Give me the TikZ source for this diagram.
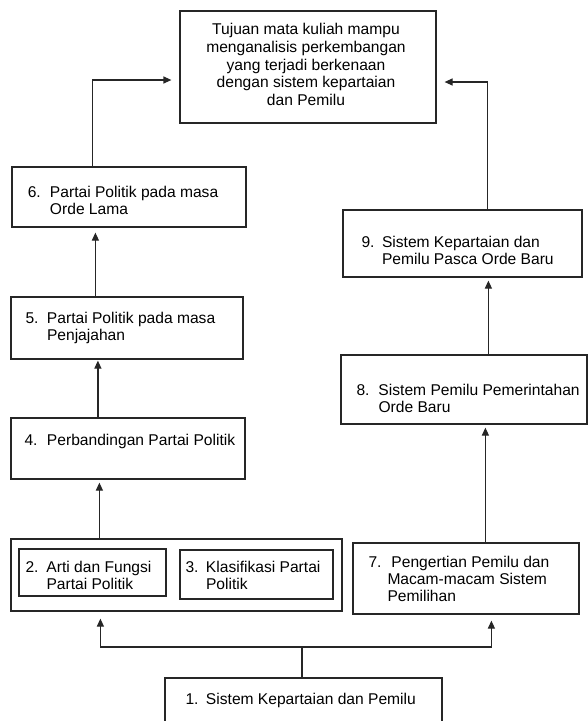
\documentclass[tikz,border=0pt]{standalone}
\usepackage{fontspec}
\setmainfont{Liberation Sans}
\usetikzlibrary{arrows.meta}
\tikzset{
  box/.style={draw=black!85, line width=1.2pt, rectangle, inner sep=0pt},
  conn/.style={draw=black!85, line width=1.2pt},
  arr/.style={conn, -{Triangle[length=8pt,width=7pt]}},
  txt/.style={anchor=base west, inner sep=0pt, font=\fontsize{15.6}{17.2}\selectfont},
}
\begin{document}
\begin{tikzpicture}[x=1pt,y=-1pt]
\useasboundingbox (0,0) rectangle (588,721);
% boxes
\node[box, minimum width=256pt, minimum height=112pt] (top) at (308,67) {};
\node[box, minimum width=234pt, minimum height=60pt] (b6) at (129,197) {};
\node[box, minimum width=232pt, minimum height=62pt] (b5) at (127,328) {};
\node[box, minimum width=234pt, minimum height=61pt] (b4) at (128,448.5) {};
\node[box, minimum width=331pt, minimum height=72pt] (grp) at (176.5,575) {};
\node[box, minimum width=147pt, minimum height=47pt] (b2) at (92.5,572.5) {};
\node[box, minimum width=153pt, minimum height=49pt] (b3) at (256.5,574.5) {};
\node[box, minimum width=239pt, minimum height=67pt] (b9) at (462.5,243.5) {};
\node[box, minimum width=246pt, minimum height=69pt] (b8) at (464,389.5) {};
\node[box, minimum width=226pt, minimum height=71pt] (b7) at (466,578.5) {};
\node[box, minimum width=277pt, minimum height=62pt] (b1) at (303.5,709) {};
% texts
\node[anchor=base, inner sep=0pt, font=\fontsize{15.6}{17.75}\selectfont] (ttop) at (306,34.5)
  {\begin{tabular}[t]{@{}c@{}}Tujuan mata kuliah mampu\\menganalisis perkembangan\\yang terjadi berkenaan\\dengan sistem kepartaian\\dan Pemilu\end{tabular}};
\node[txt] (t6) at (27.6,197) {\begin{tabular}[t]{@{}p{22.2pt}@{}l@{}}6.&Partai Politik pada masa\\&Orde Lama\end{tabular}};
\node[txt] (t5) at (25.3,323) {\begin{tabular}[t]{@{}p{21.5pt}@{}l@{}}5.&Partai Politik pada masa\\&Penjajahan\end{tabular}};
\node[txt] (t4) at (24.3,445) {\begin{tabular}[t]{@{}p{22.5pt}@{}l@{}}4.&Perbandingan Partai Politik\end{tabular}};
\node[txt] (t2) at (25.3,572) {\begin{tabular}[t]{@{}p{21pt}@{}l@{}}2.&Arti dan Fungsi\\&Partai Politik\end{tabular}};
\node[txt] (t3) at (185.3,572) {\begin{tabular}[t]{@{}p{20.5pt}@{}l@{}}3.&Klasifikasi Partai\\&Politik\end{tabular}};
\node[txt] (t7) at (368.3,567) {\begin{tabular}[t]{@{}p{19pt}@{}l@{}}7.&\hspace{4pt}Pengertian Pemilu dan\\&Macam-macam Sistem\\&Pemilihan\end{tabular}};
\node[txt] (t9) at (361.3,247) {\begin{tabular}[t]{@{}p{20.5pt}@{}l@{}}9.&Sistem Kepartaian dan\\&Pemilu Pasca Orde Baru\end{tabular}};
\node[txt] (t8) at (356.3,395) {\begin{tabular}[t]{@{}p{22pt}@{}l@{}}8.&Sistem Pemilu Pemerintahan\\&Orde Baru\end{tabular}};
\node[txt] (t1) at (185.3,704) {\begin{tabular}[t]{@{}p{20.5pt}@{}l@{}}1.&Sistem Kepartaian dan Pemilu\end{tabular}};
% connectors
\draw[arr, shorten >=8pt] ([xshift=81pt]b6.north west) |- ([yshift=-13pt]top.west);
\draw[arr, shorten >=8pt] ([xshift=145pt]b9.north west) |- ([yshift=-15pt]top.east);
\draw[arr, shorten >=5pt] ([xshift=85pt]b5.north west) -- ([xshift=84pt]b6.south west);
\draw[arr, shorten >=1pt] ([xshift=87.5pt]b4.north west) -- ([xshift=87.5pt]b5.south west);
\draw[arr, shorten >=3pt] ([xshift=89pt]grp.north west) -- ([xshift=89pt]b4.south west);
\draw[arr, shorten >=3pt] ([xshift=148pt]b8.north west) -- ([xshift=146pt]b9.south west);
\draw[arr, shorten >=3pt] ([xshift=133pt]b7.north west) -- ([xshift=145pt]b8.south west);
\coordinate (fork) at (302,647);
\draw[conn] ([xshift=-1.5pt]b1.north) -- (fork);
\draw[arr, shorten >=7pt] (fork) -| ([xshift=90pt]grp.south west);
\draw[arr, shorten >=6pt] (fork) -| ([xshift=139pt]b7.south west);
\end{tikzpicture}
\end{document}
